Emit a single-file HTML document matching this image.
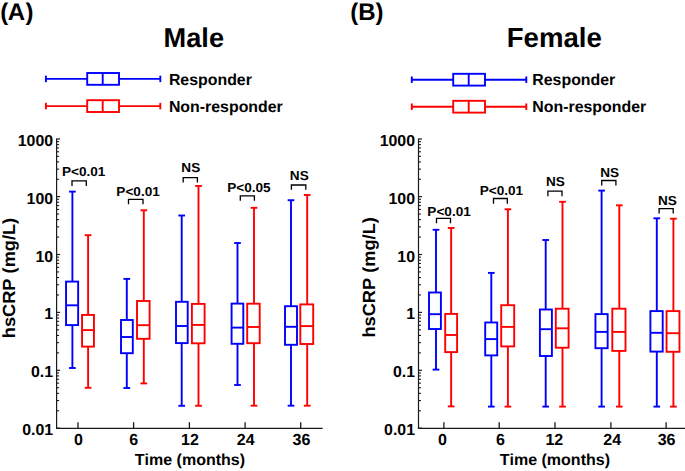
<!DOCTYPE html>
<html><head><meta charset="utf-8"><style>
html,body{margin:0;padding:0;background:#fff;}
svg{display:block;}
text{font-family:"Liberation Sans",sans-serif;font-weight:bold;fill:#000;text-rendering:geometricPrecision;font-kerning:none;}
</style></head><body>
<svg width="685" height="471" viewBox="0 0 685 471">
<rect width="685" height="471" fill="#fff"/>
<line x1="56.60" y1="138.40" x2="56.60" y2="428.90" stroke="#1a1a1a" stroke-width="1.2" stroke-linecap="butt"/>
<line x1="56.00" y1="428.30" x2="322.70" y2="428.30" stroke="#1a1a1a" stroke-width="1.2" stroke-linecap="butt"/>
<line x1="56.60" y1="428.20" x2="60.10" y2="428.20" stroke="#1a1a1a" stroke-width="1.2" stroke-linecap="butt"/>
<line x1="56.60" y1="410.77" x2="59.10" y2="410.77" stroke="#1a1a1a" stroke-width="1.1" stroke-linecap="butt"/>
<line x1="56.60" y1="400.57" x2="59.10" y2="400.57" stroke="#1a1a1a" stroke-width="1.1" stroke-linecap="butt"/>
<line x1="56.60" y1="393.34" x2="59.10" y2="393.34" stroke="#1a1a1a" stroke-width="1.1" stroke-linecap="butt"/>
<line x1="56.60" y1="387.73" x2="59.10" y2="387.73" stroke="#1a1a1a" stroke-width="1.1" stroke-linecap="butt"/>
<line x1="56.60" y1="383.15" x2="59.10" y2="383.15" stroke="#1a1a1a" stroke-width="1.1" stroke-linecap="butt"/>
<line x1="56.60" y1="379.27" x2="59.10" y2="379.27" stroke="#1a1a1a" stroke-width="1.1" stroke-linecap="butt"/>
<line x1="56.60" y1="375.91" x2="59.10" y2="375.91" stroke="#1a1a1a" stroke-width="1.1" stroke-linecap="butt"/>
<line x1="56.60" y1="372.95" x2="59.10" y2="372.95" stroke="#1a1a1a" stroke-width="1.1" stroke-linecap="butt"/>
<line x1="56.60" y1="370.30" x2="60.10" y2="370.30" stroke="#1a1a1a" stroke-width="1.2" stroke-linecap="butt"/>
<line x1="56.60" y1="352.87" x2="59.10" y2="352.87" stroke="#1a1a1a" stroke-width="1.1" stroke-linecap="butt"/>
<line x1="56.60" y1="342.67" x2="59.10" y2="342.67" stroke="#1a1a1a" stroke-width="1.1" stroke-linecap="butt"/>
<line x1="56.60" y1="335.44" x2="59.10" y2="335.44" stroke="#1a1a1a" stroke-width="1.1" stroke-linecap="butt"/>
<line x1="56.60" y1="329.83" x2="59.10" y2="329.83" stroke="#1a1a1a" stroke-width="1.1" stroke-linecap="butt"/>
<line x1="56.60" y1="325.25" x2="59.10" y2="325.25" stroke="#1a1a1a" stroke-width="1.1" stroke-linecap="butt"/>
<line x1="56.60" y1="321.37" x2="59.10" y2="321.37" stroke="#1a1a1a" stroke-width="1.1" stroke-linecap="butt"/>
<line x1="56.60" y1="318.01" x2="59.10" y2="318.01" stroke="#1a1a1a" stroke-width="1.1" stroke-linecap="butt"/>
<line x1="56.60" y1="315.05" x2="59.10" y2="315.05" stroke="#1a1a1a" stroke-width="1.1" stroke-linecap="butt"/>
<line x1="56.60" y1="312.40" x2="60.10" y2="312.40" stroke="#1a1a1a" stroke-width="1.2" stroke-linecap="butt"/>
<line x1="56.60" y1="294.97" x2="59.10" y2="294.97" stroke="#1a1a1a" stroke-width="1.1" stroke-linecap="butt"/>
<line x1="56.60" y1="284.77" x2="59.10" y2="284.77" stroke="#1a1a1a" stroke-width="1.1" stroke-linecap="butt"/>
<line x1="56.60" y1="277.54" x2="59.10" y2="277.54" stroke="#1a1a1a" stroke-width="1.1" stroke-linecap="butt"/>
<line x1="56.60" y1="271.93" x2="59.10" y2="271.93" stroke="#1a1a1a" stroke-width="1.1" stroke-linecap="butt"/>
<line x1="56.60" y1="267.35" x2="59.10" y2="267.35" stroke="#1a1a1a" stroke-width="1.1" stroke-linecap="butt"/>
<line x1="56.60" y1="263.47" x2="59.10" y2="263.47" stroke="#1a1a1a" stroke-width="1.1" stroke-linecap="butt"/>
<line x1="56.60" y1="260.11" x2="59.10" y2="260.11" stroke="#1a1a1a" stroke-width="1.1" stroke-linecap="butt"/>
<line x1="56.60" y1="257.15" x2="59.10" y2="257.15" stroke="#1a1a1a" stroke-width="1.1" stroke-linecap="butt"/>
<line x1="56.60" y1="254.50" x2="60.10" y2="254.50" stroke="#1a1a1a" stroke-width="1.2" stroke-linecap="butt"/>
<line x1="56.60" y1="237.07" x2="59.10" y2="237.07" stroke="#1a1a1a" stroke-width="1.1" stroke-linecap="butt"/>
<line x1="56.60" y1="226.87" x2="59.10" y2="226.87" stroke="#1a1a1a" stroke-width="1.1" stroke-linecap="butt"/>
<line x1="56.60" y1="219.64" x2="59.10" y2="219.64" stroke="#1a1a1a" stroke-width="1.1" stroke-linecap="butt"/>
<line x1="56.60" y1="214.03" x2="59.10" y2="214.03" stroke="#1a1a1a" stroke-width="1.1" stroke-linecap="butt"/>
<line x1="56.60" y1="209.45" x2="59.10" y2="209.45" stroke="#1a1a1a" stroke-width="1.1" stroke-linecap="butt"/>
<line x1="56.60" y1="205.57" x2="59.10" y2="205.57" stroke="#1a1a1a" stroke-width="1.1" stroke-linecap="butt"/>
<line x1="56.60" y1="202.21" x2="59.10" y2="202.21" stroke="#1a1a1a" stroke-width="1.1" stroke-linecap="butt"/>
<line x1="56.60" y1="199.25" x2="59.10" y2="199.25" stroke="#1a1a1a" stroke-width="1.1" stroke-linecap="butt"/>
<line x1="56.60" y1="196.60" x2="60.10" y2="196.60" stroke="#1a1a1a" stroke-width="1.2" stroke-linecap="butt"/>
<line x1="56.60" y1="179.26" x2="59.10" y2="179.26" stroke="#1a1a1a" stroke-width="1.1" stroke-linecap="butt"/>
<line x1="56.60" y1="169.12" x2="59.10" y2="169.12" stroke="#1a1a1a" stroke-width="1.1" stroke-linecap="butt"/>
<line x1="56.60" y1="161.92" x2="59.10" y2="161.92" stroke="#1a1a1a" stroke-width="1.1" stroke-linecap="butt"/>
<line x1="56.60" y1="156.34" x2="59.10" y2="156.34" stroke="#1a1a1a" stroke-width="1.1" stroke-linecap="butt"/>
<line x1="56.60" y1="151.78" x2="59.10" y2="151.78" stroke="#1a1a1a" stroke-width="1.1" stroke-linecap="butt"/>
<line x1="56.60" y1="147.92" x2="59.10" y2="147.92" stroke="#1a1a1a" stroke-width="1.1" stroke-linecap="butt"/>
<line x1="56.60" y1="144.58" x2="59.10" y2="144.58" stroke="#1a1a1a" stroke-width="1.1" stroke-linecap="butt"/>
<line x1="56.60" y1="141.64" x2="59.10" y2="141.64" stroke="#1a1a1a" stroke-width="1.1" stroke-linecap="butt"/>
<line x1="56.60" y1="139.00" x2="60.10" y2="139.00" stroke="#1a1a1a" stroke-width="1.2" stroke-linecap="butt"/>
<line x1="78.00" y1="422.20" x2="78.00" y2="428.30" stroke="#1a1a1a" stroke-width="1.3" stroke-linecap="butt"/>
<line x1="133.60" y1="422.20" x2="133.60" y2="428.30" stroke="#1a1a1a" stroke-width="1.3" stroke-linecap="butt"/>
<line x1="189.40" y1="422.20" x2="189.40" y2="428.30" stroke="#1a1a1a" stroke-width="1.3" stroke-linecap="butt"/>
<line x1="245.10" y1="422.20" x2="245.10" y2="428.30" stroke="#1a1a1a" stroke-width="1.3" stroke-linecap="butt"/>
<line x1="300.70" y1="422.20" x2="300.70" y2="428.30" stroke="#1a1a1a" stroke-width="1.3" stroke-linecap="butt"/>
<line x1="418.50" y1="138.40" x2="418.50" y2="428.90" stroke="#1a1a1a" stroke-width="1.2" stroke-linecap="butt"/>
<line x1="417.90" y1="428.30" x2="686.00" y2="428.30" stroke="#1a1a1a" stroke-width="1.2" stroke-linecap="butt"/>
<line x1="418.50" y1="428.20" x2="422.00" y2="428.20" stroke="#1a1a1a" stroke-width="1.2" stroke-linecap="butt"/>
<line x1="418.50" y1="410.77" x2="421.00" y2="410.77" stroke="#1a1a1a" stroke-width="1.1" stroke-linecap="butt"/>
<line x1="418.50" y1="400.57" x2="421.00" y2="400.57" stroke="#1a1a1a" stroke-width="1.1" stroke-linecap="butt"/>
<line x1="418.50" y1="393.34" x2="421.00" y2="393.34" stroke="#1a1a1a" stroke-width="1.1" stroke-linecap="butt"/>
<line x1="418.50" y1="387.73" x2="421.00" y2="387.73" stroke="#1a1a1a" stroke-width="1.1" stroke-linecap="butt"/>
<line x1="418.50" y1="383.15" x2="421.00" y2="383.15" stroke="#1a1a1a" stroke-width="1.1" stroke-linecap="butt"/>
<line x1="418.50" y1="379.27" x2="421.00" y2="379.27" stroke="#1a1a1a" stroke-width="1.1" stroke-linecap="butt"/>
<line x1="418.50" y1="375.91" x2="421.00" y2="375.91" stroke="#1a1a1a" stroke-width="1.1" stroke-linecap="butt"/>
<line x1="418.50" y1="372.95" x2="421.00" y2="372.95" stroke="#1a1a1a" stroke-width="1.1" stroke-linecap="butt"/>
<line x1="418.50" y1="370.30" x2="422.00" y2="370.30" stroke="#1a1a1a" stroke-width="1.2" stroke-linecap="butt"/>
<line x1="418.50" y1="352.87" x2="421.00" y2="352.87" stroke="#1a1a1a" stroke-width="1.1" stroke-linecap="butt"/>
<line x1="418.50" y1="342.67" x2="421.00" y2="342.67" stroke="#1a1a1a" stroke-width="1.1" stroke-linecap="butt"/>
<line x1="418.50" y1="335.44" x2="421.00" y2="335.44" stroke="#1a1a1a" stroke-width="1.1" stroke-linecap="butt"/>
<line x1="418.50" y1="329.83" x2="421.00" y2="329.83" stroke="#1a1a1a" stroke-width="1.1" stroke-linecap="butt"/>
<line x1="418.50" y1="325.25" x2="421.00" y2="325.25" stroke="#1a1a1a" stroke-width="1.1" stroke-linecap="butt"/>
<line x1="418.50" y1="321.37" x2="421.00" y2="321.37" stroke="#1a1a1a" stroke-width="1.1" stroke-linecap="butt"/>
<line x1="418.50" y1="318.01" x2="421.00" y2="318.01" stroke="#1a1a1a" stroke-width="1.1" stroke-linecap="butt"/>
<line x1="418.50" y1="315.05" x2="421.00" y2="315.05" stroke="#1a1a1a" stroke-width="1.1" stroke-linecap="butt"/>
<line x1="418.50" y1="312.40" x2="422.00" y2="312.40" stroke="#1a1a1a" stroke-width="1.2" stroke-linecap="butt"/>
<line x1="418.50" y1="294.97" x2="421.00" y2="294.97" stroke="#1a1a1a" stroke-width="1.1" stroke-linecap="butt"/>
<line x1="418.50" y1="284.77" x2="421.00" y2="284.77" stroke="#1a1a1a" stroke-width="1.1" stroke-linecap="butt"/>
<line x1="418.50" y1="277.54" x2="421.00" y2="277.54" stroke="#1a1a1a" stroke-width="1.1" stroke-linecap="butt"/>
<line x1="418.50" y1="271.93" x2="421.00" y2="271.93" stroke="#1a1a1a" stroke-width="1.1" stroke-linecap="butt"/>
<line x1="418.50" y1="267.35" x2="421.00" y2="267.35" stroke="#1a1a1a" stroke-width="1.1" stroke-linecap="butt"/>
<line x1="418.50" y1="263.47" x2="421.00" y2="263.47" stroke="#1a1a1a" stroke-width="1.1" stroke-linecap="butt"/>
<line x1="418.50" y1="260.11" x2="421.00" y2="260.11" stroke="#1a1a1a" stroke-width="1.1" stroke-linecap="butt"/>
<line x1="418.50" y1="257.15" x2="421.00" y2="257.15" stroke="#1a1a1a" stroke-width="1.1" stroke-linecap="butt"/>
<line x1="418.50" y1="254.50" x2="422.00" y2="254.50" stroke="#1a1a1a" stroke-width="1.2" stroke-linecap="butt"/>
<line x1="418.50" y1="237.07" x2="421.00" y2="237.07" stroke="#1a1a1a" stroke-width="1.1" stroke-linecap="butt"/>
<line x1="418.50" y1="226.87" x2="421.00" y2="226.87" stroke="#1a1a1a" stroke-width="1.1" stroke-linecap="butt"/>
<line x1="418.50" y1="219.64" x2="421.00" y2="219.64" stroke="#1a1a1a" stroke-width="1.1" stroke-linecap="butt"/>
<line x1="418.50" y1="214.03" x2="421.00" y2="214.03" stroke="#1a1a1a" stroke-width="1.1" stroke-linecap="butt"/>
<line x1="418.50" y1="209.45" x2="421.00" y2="209.45" stroke="#1a1a1a" stroke-width="1.1" stroke-linecap="butt"/>
<line x1="418.50" y1="205.57" x2="421.00" y2="205.57" stroke="#1a1a1a" stroke-width="1.1" stroke-linecap="butt"/>
<line x1="418.50" y1="202.21" x2="421.00" y2="202.21" stroke="#1a1a1a" stroke-width="1.1" stroke-linecap="butt"/>
<line x1="418.50" y1="199.25" x2="421.00" y2="199.25" stroke="#1a1a1a" stroke-width="1.1" stroke-linecap="butt"/>
<line x1="418.50" y1="196.60" x2="422.00" y2="196.60" stroke="#1a1a1a" stroke-width="1.2" stroke-linecap="butt"/>
<line x1="418.50" y1="179.26" x2="421.00" y2="179.26" stroke="#1a1a1a" stroke-width="1.1" stroke-linecap="butt"/>
<line x1="418.50" y1="169.12" x2="421.00" y2="169.12" stroke="#1a1a1a" stroke-width="1.1" stroke-linecap="butt"/>
<line x1="418.50" y1="161.92" x2="421.00" y2="161.92" stroke="#1a1a1a" stroke-width="1.1" stroke-linecap="butt"/>
<line x1="418.50" y1="156.34" x2="421.00" y2="156.34" stroke="#1a1a1a" stroke-width="1.1" stroke-linecap="butt"/>
<line x1="418.50" y1="151.78" x2="421.00" y2="151.78" stroke="#1a1a1a" stroke-width="1.1" stroke-linecap="butt"/>
<line x1="418.50" y1="147.92" x2="421.00" y2="147.92" stroke="#1a1a1a" stroke-width="1.1" stroke-linecap="butt"/>
<line x1="418.50" y1="144.58" x2="421.00" y2="144.58" stroke="#1a1a1a" stroke-width="1.1" stroke-linecap="butt"/>
<line x1="418.50" y1="141.64" x2="421.00" y2="141.64" stroke="#1a1a1a" stroke-width="1.1" stroke-linecap="butt"/>
<line x1="418.50" y1="139.00" x2="422.00" y2="139.00" stroke="#1a1a1a" stroke-width="1.2" stroke-linecap="butt"/>
<line x1="443.90" y1="422.20" x2="443.90" y2="428.30" stroke="#1a1a1a" stroke-width="1.3" stroke-linecap="butt"/>
<line x1="499.20" y1="422.20" x2="499.20" y2="428.30" stroke="#1a1a1a" stroke-width="1.3" stroke-linecap="butt"/>
<line x1="555.00" y1="422.20" x2="555.00" y2="428.30" stroke="#1a1a1a" stroke-width="1.3" stroke-linecap="butt"/>
<line x1="610.90" y1="422.20" x2="610.90" y2="428.30" stroke="#1a1a1a" stroke-width="1.3" stroke-linecap="butt"/>
<line x1="666.10" y1="422.20" x2="666.10" y2="428.30" stroke="#1a1a1a" stroke-width="1.3" stroke-linecap="butt"/>
<line x1="72.40" y1="191.60" x2="72.40" y2="281.60" stroke="#0000ff" stroke-width="1.9" stroke-linecap="butt"/>
<line x1="72.40" y1="325.10" x2="72.40" y2="368.00" stroke="#0000ff" stroke-width="1.9" stroke-linecap="butt"/>
<line x1="69.05" y1="191.60" x2="75.75" y2="191.60" stroke="#0000ff" stroke-width="1.9" stroke-linecap="butt"/>
<line x1="69.05" y1="368.00" x2="75.75" y2="368.00" stroke="#0000ff" stroke-width="1.9" stroke-linecap="butt"/>
<rect x="66.05" y="281.60" width="12.10" height="43.50" fill="none" stroke="#0000ff" stroke-width="1.9"/>
<line x1="66.05" y1="305.30" x2="78.15" y2="305.30" stroke="#0000ff" stroke-width="1.9" stroke-linecap="butt"/>
<line x1="88.10" y1="235.20" x2="88.10" y2="314.90" stroke="#ff0000" stroke-width="1.9" stroke-linecap="butt"/>
<line x1="88.10" y1="346.60" x2="88.10" y2="387.80" stroke="#ff0000" stroke-width="1.9" stroke-linecap="butt"/>
<line x1="84.75" y1="235.20" x2="91.45" y2="235.20" stroke="#ff0000" stroke-width="1.9" stroke-linecap="butt"/>
<line x1="84.75" y1="387.80" x2="91.45" y2="387.80" stroke="#ff0000" stroke-width="1.9" stroke-linecap="butt"/>
<rect x="82.05" y="314.90" width="11.90" height="31.70" fill="none" stroke="#ff0000" stroke-width="1.9"/>
<line x1="82.05" y1="330.10" x2="93.95" y2="330.10" stroke="#ff0000" stroke-width="1.9" stroke-linecap="butt"/>
<line x1="126.80" y1="278.90" x2="126.80" y2="320.00" stroke="#0000ff" stroke-width="1.9" stroke-linecap="butt"/>
<line x1="126.80" y1="353.20" x2="126.80" y2="388.00" stroke="#0000ff" stroke-width="1.9" stroke-linecap="butt"/>
<line x1="123.45" y1="278.90" x2="130.15" y2="278.90" stroke="#0000ff" stroke-width="1.9" stroke-linecap="butt"/>
<line x1="123.45" y1="388.00" x2="130.15" y2="388.00" stroke="#0000ff" stroke-width="1.9" stroke-linecap="butt"/>
<rect x="121.00" y="320.00" width="11.80" height="33.20" fill="none" stroke="#0000ff" stroke-width="1.9"/>
<line x1="121.00" y1="337.00" x2="132.80" y2="337.00" stroke="#0000ff" stroke-width="1.9" stroke-linecap="butt"/>
<line x1="143.80" y1="210.30" x2="143.80" y2="301.00" stroke="#ff0000" stroke-width="1.9" stroke-linecap="butt"/>
<line x1="143.80" y1="338.80" x2="143.80" y2="383.40" stroke="#ff0000" stroke-width="1.9" stroke-linecap="butt"/>
<line x1="140.45" y1="210.30" x2="147.15" y2="210.30" stroke="#ff0000" stroke-width="1.9" stroke-linecap="butt"/>
<line x1="140.45" y1="383.40" x2="147.15" y2="383.40" stroke="#ff0000" stroke-width="1.9" stroke-linecap="butt"/>
<rect x="137.00" y="301.00" width="12.60" height="37.80" fill="none" stroke="#ff0000" stroke-width="1.9"/>
<line x1="137.00" y1="325.20" x2="149.60" y2="325.20" stroke="#ff0000" stroke-width="1.9" stroke-linecap="butt"/>
<line x1="181.70" y1="215.50" x2="181.70" y2="301.80" stroke="#0000ff" stroke-width="1.9" stroke-linecap="butt"/>
<line x1="181.70" y1="343.10" x2="181.70" y2="405.80" stroke="#0000ff" stroke-width="1.9" stroke-linecap="butt"/>
<line x1="178.35" y1="215.50" x2="185.05" y2="215.50" stroke="#0000ff" stroke-width="1.9" stroke-linecap="butt"/>
<line x1="178.35" y1="405.80" x2="185.05" y2="405.80" stroke="#0000ff" stroke-width="1.9" stroke-linecap="butt"/>
<rect x="176.00" y="301.80" width="11.70" height="41.30" fill="none" stroke="#0000ff" stroke-width="1.9"/>
<line x1="176.00" y1="326.00" x2="187.70" y2="326.00" stroke="#0000ff" stroke-width="1.9" stroke-linecap="butt"/>
<line x1="198.50" y1="186.00" x2="198.50" y2="303.90" stroke="#ff0000" stroke-width="1.9" stroke-linecap="butt"/>
<line x1="198.50" y1="343.30" x2="198.50" y2="405.80" stroke="#ff0000" stroke-width="1.9" stroke-linecap="butt"/>
<line x1="195.15" y1="186.00" x2="201.85" y2="186.00" stroke="#ff0000" stroke-width="1.9" stroke-linecap="butt"/>
<line x1="195.15" y1="405.80" x2="201.85" y2="405.80" stroke="#ff0000" stroke-width="1.9" stroke-linecap="butt"/>
<rect x="191.90" y="303.90" width="12.70" height="39.40" fill="none" stroke="#ff0000" stroke-width="1.9"/>
<line x1="191.90" y1="324.90" x2="204.60" y2="324.90" stroke="#ff0000" stroke-width="1.9" stroke-linecap="butt"/>
<line x1="237.50" y1="243.00" x2="237.50" y2="303.60" stroke="#0000ff" stroke-width="1.9" stroke-linecap="butt"/>
<line x1="237.50" y1="343.80" x2="237.50" y2="385.00" stroke="#0000ff" stroke-width="1.9" stroke-linecap="butt"/>
<line x1="234.15" y1="243.00" x2="240.85" y2="243.00" stroke="#0000ff" stroke-width="1.9" stroke-linecap="butt"/>
<line x1="234.15" y1="385.00" x2="240.85" y2="385.00" stroke="#0000ff" stroke-width="1.9" stroke-linecap="butt"/>
<rect x="231.60" y="303.60" width="11.70" height="40.20" fill="none" stroke="#0000ff" stroke-width="1.9"/>
<line x1="231.60" y1="327.60" x2="243.30" y2="327.60" stroke="#0000ff" stroke-width="1.9" stroke-linecap="butt"/>
<line x1="254.00" y1="207.80" x2="254.00" y2="303.70" stroke="#ff0000" stroke-width="1.9" stroke-linecap="butt"/>
<line x1="254.00" y1="343.20" x2="254.00" y2="405.70" stroke="#ff0000" stroke-width="1.9" stroke-linecap="butt"/>
<line x1="250.65" y1="207.80" x2="257.35" y2="207.80" stroke="#ff0000" stroke-width="1.9" stroke-linecap="butt"/>
<line x1="250.65" y1="405.70" x2="257.35" y2="405.70" stroke="#ff0000" stroke-width="1.9" stroke-linecap="butt"/>
<rect x="247.20" y="303.70" width="12.50" height="39.50" fill="none" stroke="#ff0000" stroke-width="1.9"/>
<line x1="247.20" y1="327.00" x2="259.70" y2="327.00" stroke="#ff0000" stroke-width="1.9" stroke-linecap="butt"/>
<line x1="291.00" y1="200.20" x2="291.00" y2="306.20" stroke="#0000ff" stroke-width="1.9" stroke-linecap="butt"/>
<line x1="291.00" y1="344.80" x2="291.00" y2="405.70" stroke="#0000ff" stroke-width="1.9" stroke-linecap="butt"/>
<line x1="287.65" y1="200.20" x2="294.35" y2="200.20" stroke="#0000ff" stroke-width="1.9" stroke-linecap="butt"/>
<line x1="287.65" y1="405.70" x2="294.35" y2="405.70" stroke="#0000ff" stroke-width="1.9" stroke-linecap="butt"/>
<rect x="285.00" y="306.20" width="12.00" height="38.60" fill="none" stroke="#0000ff" stroke-width="1.9"/>
<line x1="285.00" y1="326.80" x2="297.00" y2="326.80" stroke="#0000ff" stroke-width="1.9" stroke-linecap="butt"/>
<line x1="307.20" y1="195.00" x2="307.20" y2="304.40" stroke="#ff0000" stroke-width="1.9" stroke-linecap="butt"/>
<line x1="307.20" y1="344.00" x2="307.20" y2="405.70" stroke="#ff0000" stroke-width="1.9" stroke-linecap="butt"/>
<line x1="303.85" y1="195.00" x2="310.55" y2="195.00" stroke="#ff0000" stroke-width="1.9" stroke-linecap="butt"/>
<line x1="303.85" y1="405.70" x2="310.55" y2="405.70" stroke="#ff0000" stroke-width="1.9" stroke-linecap="butt"/>
<rect x="300.30" y="304.40" width="12.90" height="39.60" fill="none" stroke="#ff0000" stroke-width="1.9"/>
<line x1="300.30" y1="326.10" x2="313.20" y2="326.10" stroke="#ff0000" stroke-width="1.9" stroke-linecap="butt"/>
<line x1="436.00" y1="229.80" x2="436.00" y2="292.50" stroke="#0000ff" stroke-width="1.9" stroke-linecap="butt"/>
<line x1="436.00" y1="329.00" x2="436.00" y2="369.60" stroke="#0000ff" stroke-width="1.9" stroke-linecap="butt"/>
<line x1="432.65" y1="229.80" x2="439.35" y2="229.80" stroke="#0000ff" stroke-width="1.9" stroke-linecap="butt"/>
<line x1="432.65" y1="369.60" x2="439.35" y2="369.60" stroke="#0000ff" stroke-width="1.9" stroke-linecap="butt"/>
<rect x="429.00" y="292.50" width="11.90" height="36.50" fill="none" stroke="#0000ff" stroke-width="1.9"/>
<line x1="429.00" y1="314.20" x2="440.90" y2="314.20" stroke="#0000ff" stroke-width="1.9" stroke-linecap="butt"/>
<line x1="451.15" y1="228.00" x2="451.15" y2="313.90" stroke="#ff0000" stroke-width="1.9" stroke-linecap="butt"/>
<line x1="451.15" y1="352.10" x2="451.15" y2="406.40" stroke="#ff0000" stroke-width="1.9" stroke-linecap="butt"/>
<line x1="447.80" y1="228.00" x2="454.50" y2="228.00" stroke="#ff0000" stroke-width="1.9" stroke-linecap="butt"/>
<line x1="447.80" y1="406.40" x2="454.50" y2="406.40" stroke="#ff0000" stroke-width="1.9" stroke-linecap="butt"/>
<rect x="445.20" y="313.90" width="11.90" height="38.20" fill="none" stroke="#ff0000" stroke-width="1.9"/>
<line x1="445.20" y1="335.00" x2="457.10" y2="335.00" stroke="#ff0000" stroke-width="1.9" stroke-linecap="butt"/>
<line x1="491.30" y1="272.90" x2="491.30" y2="322.50" stroke="#0000ff" stroke-width="1.9" stroke-linecap="butt"/>
<line x1="491.30" y1="355.40" x2="491.30" y2="406.60" stroke="#0000ff" stroke-width="1.9" stroke-linecap="butt"/>
<line x1="487.95" y1="272.90" x2="494.65" y2="272.90" stroke="#0000ff" stroke-width="1.9" stroke-linecap="butt"/>
<line x1="487.95" y1="406.60" x2="494.65" y2="406.60" stroke="#0000ff" stroke-width="1.9" stroke-linecap="butt"/>
<rect x="485.20" y="322.50" width="12.00" height="32.90" fill="none" stroke="#0000ff" stroke-width="1.9"/>
<line x1="485.20" y1="339.10" x2="497.20" y2="339.10" stroke="#0000ff" stroke-width="1.9" stroke-linecap="butt"/>
<line x1="507.90" y1="209.30" x2="507.90" y2="305.20" stroke="#ff0000" stroke-width="1.9" stroke-linecap="butt"/>
<line x1="507.90" y1="346.40" x2="507.90" y2="406.60" stroke="#ff0000" stroke-width="1.9" stroke-linecap="butt"/>
<line x1="504.55" y1="209.30" x2="511.25" y2="209.30" stroke="#ff0000" stroke-width="1.9" stroke-linecap="butt"/>
<line x1="504.55" y1="406.60" x2="511.25" y2="406.60" stroke="#ff0000" stroke-width="1.9" stroke-linecap="butt"/>
<rect x="501.20" y="305.20" width="13.00" height="41.20" fill="none" stroke="#ff0000" stroke-width="1.9"/>
<line x1="501.20" y1="326.90" x2="514.20" y2="326.90" stroke="#ff0000" stroke-width="1.9" stroke-linecap="butt"/>
<line x1="545.70" y1="240.00" x2="545.70" y2="309.50" stroke="#0000ff" stroke-width="1.9" stroke-linecap="butt"/>
<line x1="545.70" y1="356.00" x2="545.70" y2="406.60" stroke="#0000ff" stroke-width="1.9" stroke-linecap="butt"/>
<line x1="542.35" y1="240.00" x2="549.05" y2="240.00" stroke="#0000ff" stroke-width="1.9" stroke-linecap="butt"/>
<line x1="542.35" y1="406.60" x2="549.05" y2="406.60" stroke="#0000ff" stroke-width="1.9" stroke-linecap="butt"/>
<rect x="539.90" y="309.50" width="12.00" height="46.50" fill="none" stroke="#0000ff" stroke-width="1.9"/>
<line x1="539.90" y1="329.20" x2="551.90" y2="329.20" stroke="#0000ff" stroke-width="1.9" stroke-linecap="butt"/>
<line x1="562.50" y1="201.80" x2="562.50" y2="308.70" stroke="#ff0000" stroke-width="1.9" stroke-linecap="butt"/>
<line x1="562.50" y1="347.70" x2="562.50" y2="406.60" stroke="#ff0000" stroke-width="1.9" stroke-linecap="butt"/>
<line x1="559.15" y1="201.80" x2="565.85" y2="201.80" stroke="#ff0000" stroke-width="1.9" stroke-linecap="butt"/>
<line x1="559.15" y1="406.60" x2="565.85" y2="406.60" stroke="#ff0000" stroke-width="1.9" stroke-linecap="butt"/>
<rect x="555.80" y="308.70" width="12.80" height="39.00" fill="none" stroke="#ff0000" stroke-width="1.9"/>
<line x1="555.80" y1="328.30" x2="568.60" y2="328.30" stroke="#ff0000" stroke-width="1.9" stroke-linecap="butt"/>
<line x1="601.60" y1="190.60" x2="601.60" y2="314.10" stroke="#0000ff" stroke-width="1.9" stroke-linecap="butt"/>
<line x1="601.60" y1="348.20" x2="601.60" y2="406.60" stroke="#0000ff" stroke-width="1.9" stroke-linecap="butt"/>
<line x1="598.25" y1="190.60" x2="604.95" y2="190.60" stroke="#0000ff" stroke-width="1.9" stroke-linecap="butt"/>
<line x1="598.25" y1="406.60" x2="604.95" y2="406.60" stroke="#0000ff" stroke-width="1.9" stroke-linecap="butt"/>
<rect x="595.45" y="314.10" width="12.20" height="34.10" fill="none" stroke="#0000ff" stroke-width="1.9"/>
<line x1="595.45" y1="331.90" x2="607.65" y2="331.90" stroke="#0000ff" stroke-width="1.9" stroke-linecap="butt"/>
<line x1="619.30" y1="205.30" x2="619.30" y2="308.70" stroke="#ff0000" stroke-width="1.9" stroke-linecap="butt"/>
<line x1="619.30" y1="350.90" x2="619.30" y2="406.60" stroke="#ff0000" stroke-width="1.9" stroke-linecap="butt"/>
<line x1="615.95" y1="205.30" x2="622.65" y2="205.30" stroke="#ff0000" stroke-width="1.9" stroke-linecap="butt"/>
<line x1="615.95" y1="406.60" x2="622.65" y2="406.60" stroke="#ff0000" stroke-width="1.9" stroke-linecap="butt"/>
<rect x="612.30" y="308.70" width="13.20" height="42.20" fill="none" stroke="#ff0000" stroke-width="1.9"/>
<line x1="612.30" y1="331.90" x2="625.50" y2="331.90" stroke="#ff0000" stroke-width="1.9" stroke-linecap="butt"/>
<line x1="656.80" y1="218.30" x2="656.80" y2="311.10" stroke="#0000ff" stroke-width="1.9" stroke-linecap="butt"/>
<line x1="656.80" y1="351.60" x2="656.80" y2="406.60" stroke="#0000ff" stroke-width="1.9" stroke-linecap="butt"/>
<line x1="653.45" y1="218.30" x2="660.15" y2="218.30" stroke="#0000ff" stroke-width="1.9" stroke-linecap="butt"/>
<line x1="653.45" y1="406.60" x2="660.15" y2="406.60" stroke="#0000ff" stroke-width="1.9" stroke-linecap="butt"/>
<rect x="650.40" y="311.10" width="12.30" height="40.50" fill="none" stroke="#0000ff" stroke-width="1.9"/>
<line x1="650.40" y1="332.80" x2="662.70" y2="332.80" stroke="#0000ff" stroke-width="1.9" stroke-linecap="butt"/>
<line x1="673.40" y1="218.70" x2="673.40" y2="311.10" stroke="#ff0000" stroke-width="1.9" stroke-linecap="butt"/>
<line x1="673.40" y1="351.80" x2="673.40" y2="406.60" stroke="#ff0000" stroke-width="1.9" stroke-linecap="butt"/>
<line x1="670.05" y1="218.70" x2="676.75" y2="218.70" stroke="#ff0000" stroke-width="1.9" stroke-linecap="butt"/>
<line x1="670.05" y1="406.60" x2="676.75" y2="406.60" stroke="#ff0000" stroke-width="1.9" stroke-linecap="butt"/>
<rect x="666.55" y="311.10" width="12.90" height="40.70" fill="none" stroke="#ff0000" stroke-width="1.9"/>
<line x1="666.55" y1="333.20" x2="679.45" y2="333.20" stroke="#ff0000" stroke-width="1.9" stroke-linecap="butt"/>
<path d="M72.00,186.00 V180.90 H86.30 V186.00" fill="none" stroke="#000000" stroke-width="1.3"/>
<path d="M128.50,204.20 V199.30 H143.00 V204.20" fill="none" stroke="#000000" stroke-width="1.3"/>
<path d="M183.20,182.60 V177.60 H197.40 V182.60" fill="none" stroke="#000000" stroke-width="1.3"/>
<path d="M240.30,200.80 V195.80 H254.40 V200.80" fill="none" stroke="#000000" stroke-width="1.3"/>
<path d="M291.40,189.70 V185.00 H305.80 V189.70" fill="none" stroke="#000000" stroke-width="1.3"/>
<path d="M436.50,223.30 V218.30 H450.50 V223.30" fill="none" stroke="#000000" stroke-width="1.3"/>
<path d="M493.50,203.70 V198.50 H507.30 V203.70" fill="none" stroke="#000000" stroke-width="1.3"/>
<path d="M547.90,196.30 V191.10 H562.00 V196.30" fill="none" stroke="#000000" stroke-width="1.3"/>
<path d="M601.70,185.50 V180.50 H615.90 V185.50" fill="none" stroke="#000000" stroke-width="1.3"/>
<path d="M659.10,213.40 V208.70 H673.20 V213.40" fill="none" stroke="#000000" stroke-width="1.3"/>
<line x1="45.90" y1="78.90" x2="87.20" y2="78.90" stroke="#0000ff" stroke-width="1.9" stroke-linecap="butt"/>
<line x1="119.00" y1="78.90" x2="160.30" y2="78.90" stroke="#0000ff" stroke-width="1.9" stroke-linecap="butt"/>
<line x1="45.90" y1="75.65" x2="45.90" y2="82.15" stroke="#0000ff" stroke-width="1.9" stroke-linecap="butt"/>
<line x1="160.30" y1="75.65" x2="160.30" y2="82.15" stroke="#0000ff" stroke-width="1.9" stroke-linecap="butt"/>
<rect x="87.20" y="73.00" width="31.80" height="11.80" fill="none" stroke="#0000ff" stroke-width="1.9"/>
<line x1="102.70" y1="73.00" x2="102.70" y2="84.80" stroke="#0000ff" stroke-width="1.9" stroke-linecap="butt"/>
<line x1="45.90" y1="106.10" x2="87.20" y2="106.10" stroke="#ff0000" stroke-width="1.9" stroke-linecap="butt"/>
<line x1="119.00" y1="106.10" x2="160.30" y2="106.10" stroke="#ff0000" stroke-width="1.9" stroke-linecap="butt"/>
<line x1="45.90" y1="102.85" x2="45.90" y2="109.35" stroke="#ff0000" stroke-width="1.9" stroke-linecap="butt"/>
<line x1="160.30" y1="102.85" x2="160.30" y2="109.35" stroke="#ff0000" stroke-width="1.9" stroke-linecap="butt"/>
<rect x="87.20" y="100.20" width="31.80" height="11.80" fill="none" stroke="#ff0000" stroke-width="1.9"/>
<line x1="102.70" y1="100.20" x2="102.70" y2="112.00" stroke="#ff0000" stroke-width="1.9" stroke-linecap="butt"/>
<line x1="411.80" y1="79.70" x2="453.20" y2="79.70" stroke="#0000ff" stroke-width="1.9" stroke-linecap="butt"/>
<line x1="485.00" y1="79.70" x2="526.30" y2="79.70" stroke="#0000ff" stroke-width="1.9" stroke-linecap="butt"/>
<line x1="411.80" y1="76.45" x2="411.80" y2="82.95" stroke="#0000ff" stroke-width="1.9" stroke-linecap="butt"/>
<line x1="526.30" y1="76.45" x2="526.30" y2="82.95" stroke="#0000ff" stroke-width="1.9" stroke-linecap="butt"/>
<rect x="453.20" y="73.80" width="31.80" height="11.80" fill="none" stroke="#0000ff" stroke-width="1.9"/>
<line x1="468.70" y1="73.80" x2="468.70" y2="85.60" stroke="#0000ff" stroke-width="1.9" stroke-linecap="butt"/>
<line x1="411.80" y1="106.70" x2="453.20" y2="106.70" stroke="#ff0000" stroke-width="1.9" stroke-linecap="butt"/>
<line x1="485.00" y1="106.70" x2="526.30" y2="106.70" stroke="#ff0000" stroke-width="1.9" stroke-linecap="butt"/>
<line x1="411.80" y1="103.45" x2="411.80" y2="109.95" stroke="#ff0000" stroke-width="1.9" stroke-linecap="butt"/>
<line x1="526.30" y1="103.45" x2="526.30" y2="109.95" stroke="#ff0000" stroke-width="1.9" stroke-linecap="butt"/>
<rect x="453.20" y="100.80" width="31.80" height="11.80" fill="none" stroke="#ff0000" stroke-width="1.9"/>
<line x1="468.70" y1="100.80" x2="468.70" y2="112.60" stroke="#ff0000" stroke-width="1.9" stroke-linecap="butt"/>
<g class="t"><text x="0.22 7.8 25.39" y="19.8" font-size="24">(A)</text>
<text x="350.37 358.23 375.49" y="19.8" font-size="24">(B)</text>
<text x="193.80" y="46.80" font-size="27.2" text-anchor="middle">Male</text>
<text x="554.30" y="46.80" font-size="27.6" text-anchor="middle">Female</text>
<text x="168.90" y="84.90" font-size="15.9">Responder</text>
<text x="168.90" y="111.70" font-size="15.9">Non-responder</text>
<text x="532.30" y="85.40" font-size="15.9">Responder</text>
<text x="532.30" y="112.20" font-size="15.9">Non-responder</text>
<text x="53.10" y="146.00" font-size="15.9" text-anchor="end">1000</text>
<text x="53.10" y="203.60" font-size="15.9" text-anchor="end">100</text>
<text x="53.10" y="261.50" font-size="15.9" text-anchor="end">10</text>
<text x="53.10" y="319.40" font-size="15.9" text-anchor="end">1</text>
<text x="53.10" y="377.30" font-size="15.9" text-anchor="end">0.1</text>
<text x="53.10" y="435.20" font-size="15.9" text-anchor="end">0.01</text>
<text x="415.00" y="146.00" font-size="15.9" text-anchor="end">1000</text>
<text x="415.00" y="203.60" font-size="15.9" text-anchor="end">100</text>
<text x="415.00" y="261.50" font-size="15.9" text-anchor="end">10</text>
<text x="415.00" y="319.40" font-size="15.9" text-anchor="end">1</text>
<text x="415.00" y="377.30" font-size="15.9" text-anchor="end">0.1</text>
<text x="415.00" y="435.20" font-size="15.9" text-anchor="end">0.01</text>
<text x="74.06" y="445.20" font-size="16.0">0</text>
<text x="129.34" y="445.20" font-size="16.0">6</text>
<text x="181.11" y="445.20" font-size="16.0">12</text>
<text x="236.87" y="445.20" font-size="16.0">24</text>
<text x="292.60" y="445.20" font-size="16.0">36</text>
<text x="438.01" y="445.20" font-size="16.0">0</text>
<text x="495.90" y="445.20" font-size="16.0">6</text>
<text x="545.46" y="445.20" font-size="16.0">12</text>
<text x="603.27" y="445.20" font-size="16.0">24</text>
<text x="657.66" y="445.20" font-size="16.0">36</text>
<text x="189.90" y="465.20" font-size="16.0" text-anchor="middle">Time (months)</text>
<text x="554.85" y="465.20" font-size="16.0" text-anchor="middle">Time (months)</text>
<text transform="translate(61.95,176.40) scale(1.045,1)" font-size="13">P&lt;0.01</text>
<text transform="translate(116.35,195.50) scale(1.045,1)" font-size="13">P&lt;0.01</text>
<text transform="translate(181.35,172.30) scale(1.045,1)" font-size="13">NS</text>
<text transform="translate(227.15,192.20) scale(1.045,1)" font-size="13">P&lt;0.05</text>
<text transform="translate(289.85,179.50) scale(1.045,1)" font-size="13">NS</text>
<text transform="translate(427.35,215.80) scale(1.045,1)" font-size="13">P&lt;0.01</text>
<text transform="translate(479.65,194.80) scale(1.045,1)" font-size="13">P&lt;0.01</text>
<text transform="translate(545.95,185.90) scale(1.045,1)" font-size="13">NS</text>
<text transform="translate(600.25,177.20) scale(1.045,1)" font-size="13">NS</text>
<text transform="translate(658.05,205.00) scale(1.045,1)" font-size="13">NS</text></g>
<g fill="#000"><text transform="translate(15.40,278.00) rotate(-90) scale(1.035,1)" font-size="17.6" text-anchor="middle">hsCRP (mg/L)</text><text transform="translate(374.50,277.35) rotate(-90) scale(1.035,1)" font-size="17.6" text-anchor="middle">hsCRP (mg/L)</text></g>
</svg>
</body></html>
